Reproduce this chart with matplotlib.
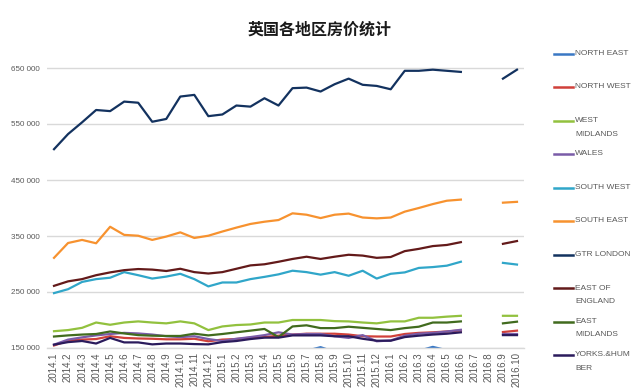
import numpy as np
import matplotlib
matplotlib.use("Agg")
import matplotlib.pyplot as plt
from matplotlib.lines import Line2D
from matplotlib.ticker import FuncFormatter

plt.rcParams["font.family"] = ["Liberation Sans", "Noto Sans CJK SC", "DejaVu Sans"]

OUT = "out.png"
TITLE = "英国各地区房价统计"

months = ["2014.%d" % m for m in range(1, 13)] + \
         ["2015.%d" % m for m in range(1, 13)] + \
         ["2016.%d" % m for m in range(1, 11)]

# None = no data (2016.7, 2016.8)
north_east = [128000, 129000, 131000, 130000, 133000, 132000, 134000, 131000, 133000, 135000,
              132000, 130000, 133000, 134000, 136000, 138000, 140000, 142000, 145000, 151500,
              143000, 141000, 140000, 137000, 138000, 141000, 145000, 152000, 146000, 144000,
              None, None, 142000, 143000]
north_west = [154500, 163000, 165000, 166000, 171000, 168000, 167000, 166500, 165500, 165500,
              166500, 162000, 165000, 166000, 168500, 169500, 172000, 174000, 175500, 175500,
              175500, 174000, 171000, 170500, 170500, 175000, 177000, 178000, 179500, 181500,
              None, None, 178500, 181000]
west_midlands = [180000, 182000, 186000, 195500, 191500, 195500, 197500, 195500, 194000, 197500,
                 194000, 182000, 188500, 191000, 192000, 195500, 195500, 200000, 200000, 200000,
                 198000, 197500, 195500, 194000, 197500, 197500, 204000, 204000, 206000, 207500,
                 None, None, 207500, 207500]
wales = [156000, 165000, 169000, 172500, 175000, 177000, 176000, 174000, 171000, 169500,
         171000, 166000, 162500, 166500, 169500, 173000, 178000, 174000, 175000, 175000,
         171000, 168000, 173000, 162000, 163500, 172000, 175500, 177000, 179500, 182500,
         None, None, 175000, 175000]
south_west = [248000, 255000, 268000, 273000, 275500, 285500, 280000, 274000, 277500, 282500,
              273000, 260000, 267000, 267000, 273000, 277000, 281500, 288000, 285500, 281000,
              285500, 279000, 288000, 274000, 282500, 285000, 293000, 294500, 297000, 304000,
              None, None, 302000, 299000]
south_east = [311000, 337500, 343000, 337000, 366500, 352000, 350500, 343000, 349000, 356500,
              346500, 350500, 358000, 365000, 371500, 375500, 378500, 390500, 388000, 382000,
              388000, 390000, 383000, 381500, 383000, 393500, 400000, 407000, 413000, 415000,
              None, None, 409500, 411000]
gtr_london = [505000, 532000, 553000, 575000, 573000, 590000, 588000, 554000, 559000, 599000,
              602000, 564000, 567000, 583000, 581000, 596000, 583000, 614000, 615000, 608000,
              621000, 631000, 620000, 618000, 612000, 645000, 645000, 647000, 645000, 643000,
              None, None, 631000, 647000]
east_of_england = [261000, 269000, 273000, 280000, 285000, 289000, 291000, 290000, 287500, 291500,
                   285500, 283000, 285500, 291500, 297500, 299500, 304000, 309000, 313000, 309000,
                   313000, 316500, 315000, 311000, 312500, 323000, 327000, 332000, 334000, 339000,
                   None, None, 336000, 341000]
east_midlands = [170500, 172500, 174000, 175000, 179500, 176000, 173000, 172000, 171500, 171500,
                 175500, 172500, 175000, 178000, 181000, 184000, 169500, 188500, 190500, 185500,
                 185500, 188000, 186000, 184000, 182000, 185500, 188000, 195500, 195500, 197500,
                 None, None, 194000, 197000]
yorks_humber = [156000, 160500, 162500, 158000, 168000, 160000, 160000, 156500, 158000, 158000,
                157000, 156500, 160500, 162500, 166000, 168500, 168500, 172500, 172500, 172500,
                171000, 171000, 166500, 163000, 163000, 169500, 172000, 174000, 175500, 178000,
                None, None, 173000, 173000]

series = [
    ("NORTH EAST", north_east, "#3a78c4"),
    ("NORTH WEST", north_west, "#d0403a"),
    ("WEST\nMIDLANDS", west_midlands, "#92c13e"),
    ("WALES", wales, "#7a5ca8"),
    ("SOUTH WEST", south_west, "#30a6c9"),
    ("SOUTH EAST", south_east, "#f7922f"),
    ("GTR LONDON", gtr_london, "#13325f"),
    ("EAST OF\nENGLAND", east_of_england, "#631a1a"),
    ("EAST\nMIDLANDS", east_midlands, "#416b1e"),
    ("YORKS.&HUM\nBER", yorks_humber, "#2b1b5c"),
]

W, H = 640, 388
GREY = "#595959"


def fx(px):
    return px / W


def fy(py):
    return 1 - py / H


fig = plt.figure(figsize=(W / 100, H / 100), dpi=100)
ax = fig.add_axes([fx(47), fy(348), fx(524) - fx(47), fy(40) - fy(348)])

x = np.arange(len(months))
for name, vals, col in series:
    y = np.array([np.nan if v is None else v for v in vals], dtype=float)
    ax.plot(x, y, color=col, linewidth=1.6, solid_joinstyle="round")

ax.set_xlim(-0.5, len(months) - 0.5)
ax.set_ylim(150000, 700000)
ax.set_yticks(np.arange(150000, 700001, 100000))
ax.yaxis.set_major_formatter(FuncFormatter(lambda v, p: "{:,.0f}".format(v).replace(",", " ")))
ax.set_xticks(x)
ax.set_xticklabels(months, rotation=90)
ax.tick_params(axis="y", length=0, pad=5, labelsize=5.8, labelcolor=GREY)
ax.tick_params(axis="x", length=0, pad=3, labelsize=7, labelcolor=GREY)
ax.grid(axis="y", color="#d9d9d9", linewidth=1)
ax.set_axisbelow(True)
for s in ["top", "right", "left"]:
    ax.spines[s].set_visible(False)
ax.spines["bottom"].set_color("#d9d9d9")
ax.spines["bottom"].set_linewidth(1)

fig.text(0.5, fy(30), TITLE, ha="center", va="center", fontsize=11.5, color="#1a1a1a",
         weight="bold", family=["Noto Sans CJK SC", "DejaVu Sans"])

# legend on the right, handle aligned with first text line
for k, (name, vals, col) in enumerate(series):
    yk = 53.5 + 33.5 * k
    fig.add_artist(Line2D([fx(554), fx(573)], [fy(yk), fy(yk)], color=col, linewidth=1.8))
    for j, line in enumerate(name.split("\n")):
        fig.text(fx(575), fy(yk + 13.5 * j), line, ha="left", va="center",
                 fontsize=6, color=GREY)

fig.savefig(OUT, dpi=100)
